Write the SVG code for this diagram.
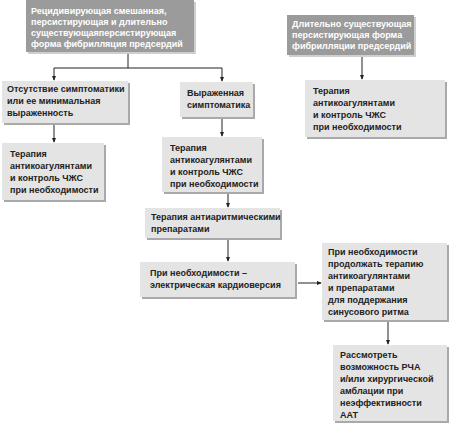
<svg xmlns="http://www.w3.org/2000/svg" width="452" height="423" viewBox="0 0 452 423">
<style>
.b{fill:#e4e4e4}
.s{fill:#a9a9a9}
.d{fill:#9b9b9b}
.ds{fill:#cfcfcf}
text{font-family:"Liberation Sans",Arial,sans-serif;font-weight:bold;font-size:9px;fill:#222}
.w{fill:#fff}
.c{fill:none;stroke:#222;stroke-width:1}
</style>
<defs>
<marker id="ar" viewBox="0 0 6 6" refX="5" refY="3" markerWidth="5" markerHeight="5" orient="auto">
<path d="M0,0.5 L6,3 L0,5.5 z" fill="#222"/>
</marker>
</defs>
<rect width="452" height="423" fill="#fff"/>
<g id="connectors">
<path class="c" d="M128,52 V68 M54,68 H222"/>
<path class="c" d="M54,68 V80" marker-end="url(#ar)"/>
<path class="c" d="M222,68 V81" marker-end="url(#ar)"/>
<path class="c" d="M54,123 V142" marker-end="url(#ar)"/>
<path class="c" d="M222,117 V136" marker-end="url(#ar)"/>
<path class="c" d="M228,192 V207" marker-end="url(#ar)"/>
<path class="c" d="M228,238 V261" marker-end="url(#ar)"/>
<path class="c" d="M298,283 H321" marker-end="url(#ar)"/>
<path class="c" d="M362,55 V79" marker-end="url(#ar)"/>
<path class="c" d="M388,320 V344" marker-end="url(#ar)"/>
</g>
<g id="nA">
<rect class="ds" x="28" y="2" width="168" height="52"/>
<rect class="d" x="26" y="0" width="168" height="52"/>
<text class="w" x="31" y="14">Рецидивирующая смешанная,</text>
<text class="w" x="31" y="25">персистирующая и длительно</text>
<text class="w" x="31" y="36">существующаяперсистирующая</text>
<text class="w" x="31" y="47">форма  фибрилляция предсердий</text>
</g>
<g id="nD">
<rect class="ds" x="289" y="17" width="127" height="40"/>
<rect class="d" x="287" y="15" width="127" height="40"/>
<text class="w" x="292" y="27">Длительно существующая</text>
<text class="w" x="292" y="38">персистирующая форма</text>
<text class="w" x="292" y="49">фибрилляции предсердий</text>
</g>
<g id="nE">
<rect class="s" x="307" y="82" width="140" height="57"/>
<rect class="b" x="305" y="80" width="140" height="57"/>
<text x="313" y="94">Терапия</text>
<text x="313" y="106">антикоагулянтами</text>
<text x="313" y="118">и контроль ЧЖС</text>
<text x="313" y="130">при необходимости</text>
</g>
<g id="nB">
<rect class="s" x="4" y="83" width="126" height="42"/>
<rect class="b" x="2" y="81" width="126" height="42"/>
<text x="7" y="92">Отсутствие симптоматики</text>
<text x="7" y="104">или ее минимальная</text>
<text x="7" y="116">выраженность</text>
</g>
<g id="nC">
<rect class="s" x="182" y="84" width="73" height="35"/>
<rect class="b" x="180" y="82" width="73" height="35"/>
<text x="187" y="96">Выраженная</text>
<text x="187" y="108">симптоматика</text>
</g>
<g id="nF">
<rect class="s" x="4" y="145" width="102" height="57"/>
<rect class="b" x="2" y="143" width="102" height="57"/>
<text x="10" y="157">Терапия</text>
<text x="10" y="169">антикоагулянтами</text>
<text x="10" y="181">и контроль ЧЖС</text>
<text x="10" y="193">при необходимости</text>
</g>
<g id="nG">
<rect class="s" x="164" y="139" width="100" height="55"/>
<rect class="b" x="162" y="137" width="100" height="55"/>
<text x="170" y="151">Терапия</text>
<text x="170" y="163">антикоагулянтами</text>
<text x="170" y="175">и контроль ЧЖС</text>
<text x="170" y="187">при необходимости</text>
</g>
<g id="nH">
<rect class="s" x="147" y="210" width="135" height="30"/>
<rect class="b" x="145" y="208" width="135" height="30"/>
<text x="151" y="220">Терапия антиаритмическими</text>
<text x="151" y="232">препаратами</text>
</g>
<g id="nI">
<rect class="s" x="142" y="264" width="155" height="35"/>
<rect class="b" x="140" y="262" width="155" height="35"/>
<text x="150" y="276">При необходимости –</text>
<text x="150" y="288">электрическая кардиоверсия</text>
</g>
<g id="nJ">
<rect class="s" x="324" y="245" width="125" height="77"/>
<rect class="b" x="322" y="243" width="125" height="77"/>
<text x="328" y="255">При необходимости</text>
<text x="328" y="267">продолжать терапию</text>
<text x="328" y="279">антикоагулянтами</text>
<text x="328" y="291">и препаратами</text>
<text x="328" y="303">для поддержания</text>
<text x="328" y="315">синусового ритма</text>
</g>
<g id="nK">
<rect class="s" x="335" y="347" width="114" height="76"/>
<rect class="b" x="333" y="345" width="114" height="76"/>
<text x="340" y="358">Рассмотреть</text>
<text x="340" y="370">возможность РЧА</text>
<text x="340" y="382">и/или хирургической</text>
<text x="340" y="394">амблации при</text>
<text x="340" y="406">неэффективности</text>
<text x="340" y="418">ААТ</text>
</g>
</svg>
